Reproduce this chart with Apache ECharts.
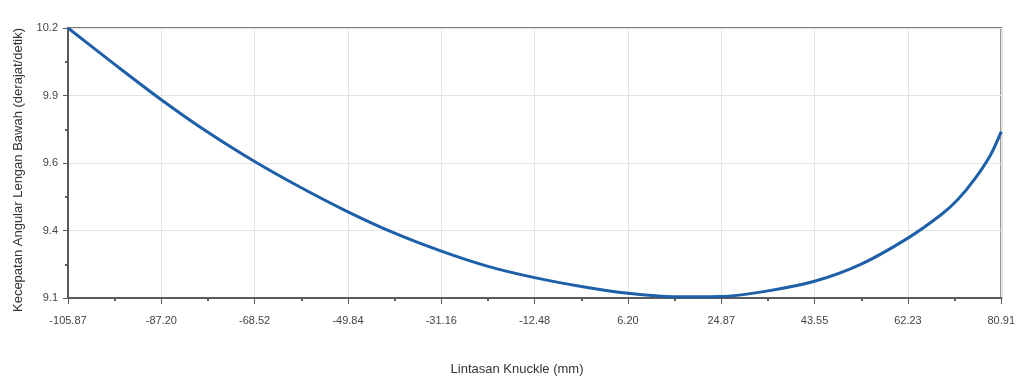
<!DOCTYPE html>
<html>
<head>
<meta charset="utf-8">
<script src="https://cdn.jsdelivr.net/npm/echarts@6/dist/echarts.min.js"></script>
<style>html,body{margin:0;padding:0;background:#fff;}#c{width:1018px;height:382px;}</style>
</head>
<body>
<div id="c"></div>
<script>
// Data
const xValues = [-105.87, -96.53, -87.20, -77.86, -68.52, -59.18, -49.84, -40.50, -31.16, -21.82, -12.48, -3.14, 6.20, 15.54, 24.87, 34.21, 43.55, 52.89, 62.23, 68.80, 72.13, 75.47, 78.77, 80.91];
const yValues = [10.200, 10.052, 9.908, 9.775, 9.656, 9.549, 9.451, 9.364, 9.291, 9.229, 9.183, 9.147, 9.119, 9.105, 9.106, 9.129, 9.168, 9.238, 9.344, 9.438, 9.499, 9.581, 9.683, 9.778];
const xTickLabels = ['-105.87', '-87.20', '-68.52', '-49.84', '-31.16', '-12.48', '6.20', '24.87', '43.55', '62.23', '80.91'];
const yTickLabels = ['9.1', '9.4', '9.6', '9.9', '10.2'];
const xMin = -105.87, xMax = 80.91;
const yMin = 9.1, yMax = 10.2;
const xTitle = 'Lintasan Knuckle (mm)';
const yTitle = 'Kecepatan Angular Lengan Bawah (derajat/detik)';

const xSpan = xMax - xMin, ySpan = yMax - yMin;
const xInt = xSpan / (xTickLabels.length - 1);
const yInt = ySpan / (yTickLabels.length - 1);
// axes run from 0 so the evenly spaced ticks of the original line up
const seriesData = xValues.map((x, i) => [x - xMin, yValues[i] - yMin]);

const chart = echarts.init(document.getElementById('c'), null, {renderer: 'canvas'});
const font = '"Liberation Sans", Arial, sans-serif';
chart.setOption({
  animation: false,
  backgroundColor: '#ffffff',
  grid: {left: 68, right: 14, top: 28, bottom: 84, show: true, borderColor: '#7a7a7a', borderWidth: 2, backgroundColor: 'transparent'},
  xAxis: {
    type: 'value', min: 0, max: xSpan, interval: xInt,
    axisLine: {show: true, onZero: false, lineStyle: {color: '#5a5a5a', width: 2}},
    axisTick: {show: true, length: 6, lineStyle: {color: '#5a5a5a', width: 1}},
    minorTick: {show: true, splitNumber: 2, length: 3, lineStyle: {color: '#5a5a5a', width: 2}},
    splitLine: {show: true, lineStyle: {color: '#e4e4e4', width: 1}},
    axisLabel: {margin: 17, color: '#444', fontFamily: font, fontSize: 11,
      formatter: v => xTickLabels[Math.round(v / xInt)] || ''}
  },
  yAxis: {
    type: 'value', min: 0, max: ySpan, interval: yInt,
    axisLine: {show: true, onZero: false, lineStyle: {color: '#5a5a5a', width: 2}},
    axisTick: {show: true, length: 5, lineStyle: {color: '#5a5a5a', width: 1}},
    minorTick: {show: true, splitNumber: 2, length: 3, lineStyle: {color: '#5a5a5a', width: 2}},
    splitLine: {show: true, lineStyle: {color: '#e4e4e4', width: 1}},
    axisLabel: {margin: 10, color: '#444', fontFamily: font, fontSize: 11,
      formatter: v => yTickLabels[Math.round(v / yInt)] || ''}
  },
  series: [{
    type: 'line', data: seriesData, smooth: 0.3, showSymbol: false,
    lineStyle: {color: '#1d5fa8', width: 3}, clip: false
  }],
  graphic: [
    {type: 'text', x: 517, y: 369, style: {text: xTitle, fill: '#333', font: '13px ' + font, textAlign: 'center', textVerticalAlign: 'middle'}},
    {type: 'text', x: 18, y: 170, rotation: Math.PI / 2, style: {text: yTitle, fill: '#333', font: '13px ' + font, textAlign: 'center', textVerticalAlign: 'middle'}}
  ]
});
</script>
</body>
</html>
